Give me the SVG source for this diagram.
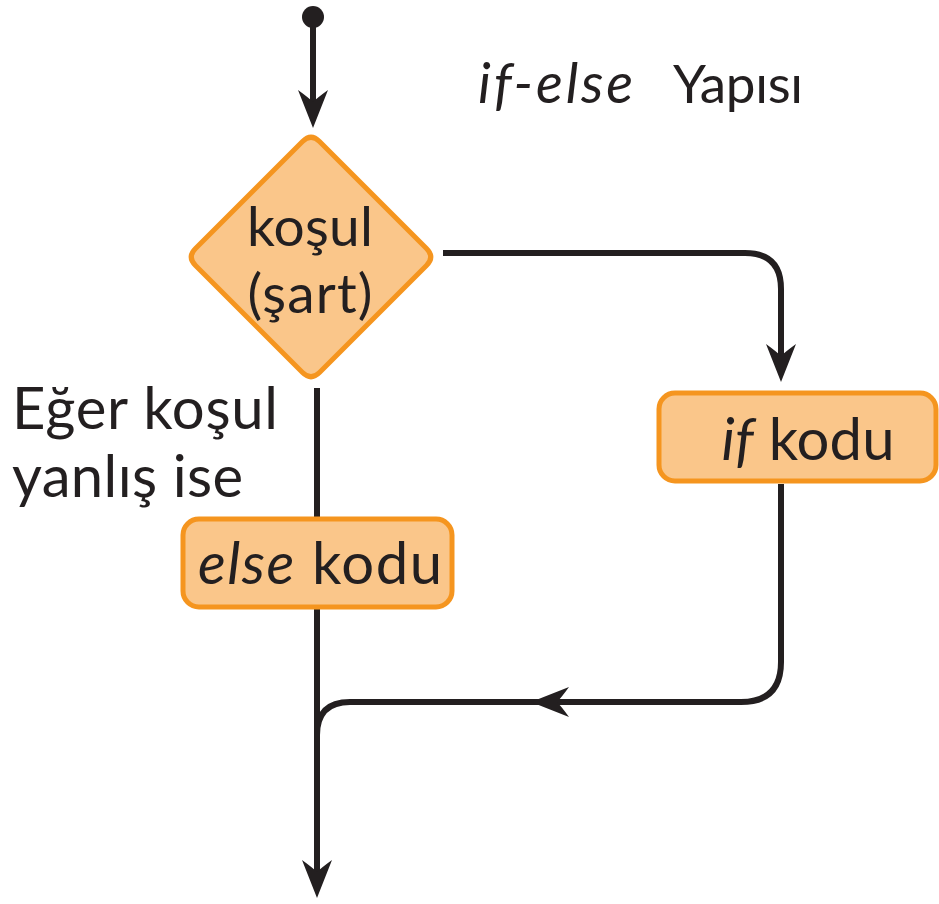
<svg xmlns="http://www.w3.org/2000/svg" width="939" height="904" viewBox="0 0 939 904">
  <style>
    .lbl { font-family: Lato, "Open Sans", "Liberation Sans", sans-serif; font-size: 58px; fill: #231f20; }
    .dia { font-size: 55px; }
    .ttl { font-size: 53px; }
    .ttl-it { font-size: 56px; font-style: italic; }
    .it { font-style: italic; }
    .box { fill: #fac68a; stroke: #f5951f; stroke-width: 5; }
    .wire { fill: none; stroke: #231f20; stroke-width: 6; }
    .head { fill: #231f20; }
  </style>
  <defs>
    <!-- barbed arrowhead, tip at origin, pointing along +x -->
    <path id="arrow" d="M0,0 L-38,-15 Q-30,-4 -26,0 Q-30,4 -38,15 Z"/>
  </defs>

  <!-- connectors -->
  <g id="connectors">
    <circle cx="313" cy="17" r="11" class="head"/>
    <path class="wire" d="M313,17 V110"/>
    <use href="#arrow" class="head" transform="translate(313,128) rotate(90)"/>

    <path class="wire" d="M443,253 H745 Q781,253 781,289 V360"/>
    <use href="#arrow" class="head" transform="translate(781,382) rotate(90)"/>

    <path class="wire" d="M781,484 V662 Q781,702 741,702 H350 Q317,702 317,735"/>
    <use href="#arrow" class="head" transform="translate(531,702) rotate(180)"/>

    <path class="wire" d="M317,388 V518 M317,608 V880"/>
    <use href="#arrow" class="head" transform="translate(317,898) rotate(90)"/>
  </g>

  <!-- decision -->
  <g id="condition">
    <path class="box" d="M319.5,141.5 L426.5,248.5 Q435,257 426.5,265.5 L319.5,372.5 Q311,381 302.5,372.5 L195.5,265.5 Q187,257 195.5,248.5 L302.5,141.5 Q311,133 319.5,141.5 Z"/>
    <text class="lbl dia" x="310" y="246" text-anchor="middle" textLength="126">koşul</text>
    <text class="lbl dia" x="310" y="313" text-anchor="middle" textLength="125">(şart)</text>
  </g>

  <!-- true branch -->
  <g id="if-block">
    <rect class="box" x="659" y="393" width="277" height="88" rx="16"/>
    <text class="lbl" x="808" y="460" text-anchor="middle" textLength="173"><tspan class="it">if</tspan> kodu</text>
  </g>

  <!-- false branch -->
  <g id="else-block">
    <rect class="box" x="183" y="519" width="269" height="88" rx="16"/>
    <text class="lbl" x="320" y="584" text-anchor="middle" textLength="244"><tspan class="it">else</tspan> kodu</text>
  </g>

  <g id="false-note">
    <text class="lbl" x="12" y="429" textLength="266">Eğer koşul</text>
    <text class="lbl" x="12" y="497" textLength="231">yanlış ise</text>
  </g>

  <g id="title">
    <text class="lbl ttl-it" x="478" y="103" textLength="155">if-else</text>
    <text class="lbl ttl" x="673" y="103" textLength="130">Yapısı</text>
  </g>
</svg>
